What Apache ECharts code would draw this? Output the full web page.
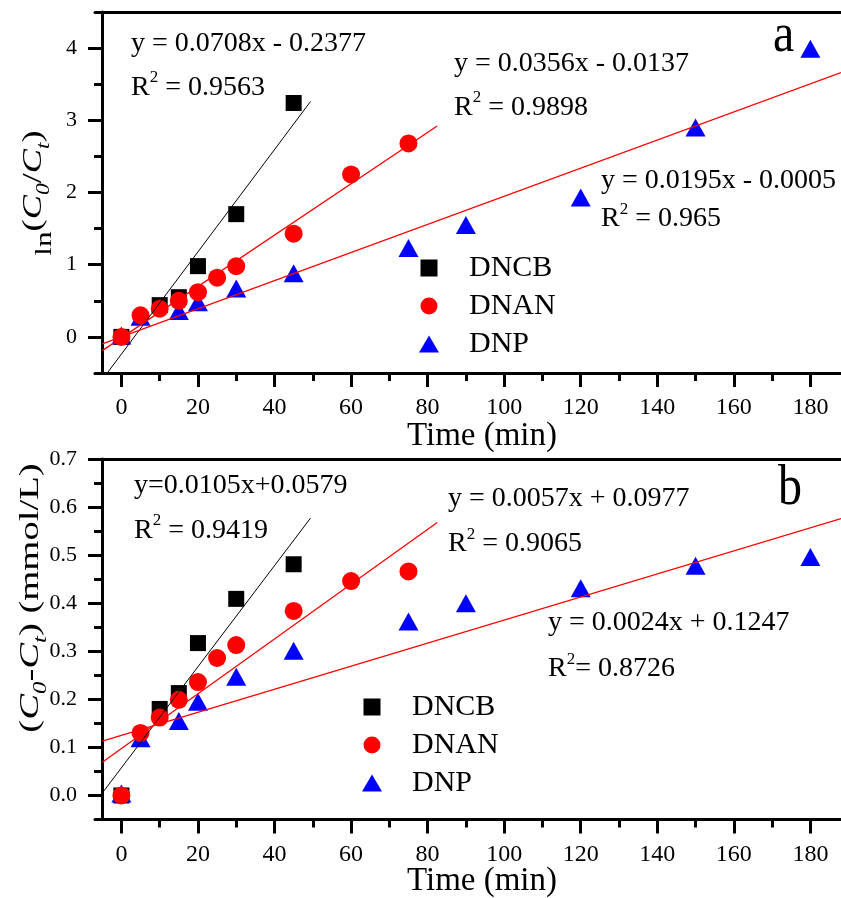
<!DOCTYPE html>
<html>
<head>
<meta charset="utf-8">
<script src="https://cdn.jsdelivr.net/npm/echarts@6/dist/echarts.min.js"></script>
<style>html,body{margin:0;padding:0;background:#fff}#c{width:841px;height:898px}</style>
</head>
<body>
<div id="c"></div>
<script>
// ---------- data ----------
const timeTicks = [0, 20, 40, 60, 80, 100, 120, 140, 160, 180];
const timeMinorTicks = [10, 30, 50, 70, 90, 110, 130, 150, 170];
const lnTicks = [0, 1, 2, 3, 4];
const lnMinorTicks = [0.5, 1.5, 2.5, 3.5];
const concTicks = [0, 0.1, 0.2, 0.3, 0.4, 0.5, 0.6, 0.7];
const concMinorTicks = [0.05, 0.15, 0.25, 0.35, 0.45, 0.55, 0.65];

const seriesNames = ['DNCB', 'DNAN', 'DNP'];

// panel a : ln(C0/Ct) vs time
const lnDNCB = [[0, 0], [10, 0.44], [15, 0.55], [20, 0.98], [30, 1.70], [45, 3.24]];
const lnDNAN = [[0, 0], [5, 0.30], [10, 0.39], [15, 0.50], [20, 0.62], [25, 0.82], [30, 0.98], [45, 1.43], [60, 2.25], [75, 2.68]];
const lnDNP = [[0, 0.02], [5, 0.28], [15, 0.36], [20, 0.48], [30, 0.67], [45, 0.88], [75, 1.23], [90, 1.55], [120, 1.93], [150, 2.90], [180, 3.99]];
// fitted lines (end points)
const fitLnDNCB = [[-3.7, -0.5], [49.4, 3.26]];
const fitLnDNAN = [[-5, -0.19], [82.5, 2.92]];
const fitLnDNP = [[-5, -0.098], [188, 3.66]];

// panel b : (C0-Ct) vs time
const dcDNCB = [[0, 0], [10, 0.18], [15, 0.213], [20, 0.317], [30, 0.409], [45, 0.481]];
const dcDNAN = [[0, 0], [5, 0.13], [10, 0.162], [15, 0.199], [20, 0.236], [25, 0.286], [30, 0.313], [45, 0.384], [60, 0.446], [75, 0.466]];
const dcDNP = [[0, 0.004], [5, 0.119], [15, 0.155], [20, 0.195], [30, 0.247], [45, 0.301], [75, 0.362], [90, 0.40], [120, 0.431], [150, 0.478], [180, 0.496]];
const fitDcDNCB = [[-5, 0.005], [49.4, 0.577]];
const fitDcDNAN = [[-5, 0.069], [82.5, 0.568]];
const fitDcDNP = [[-5, 0.113], [188, 0.576]];

// annotation texts
const eqA = ['y = 0.0708x - 0.2377', 'y = 0.0356x - 0.0137', 'y = 0.0195x - 0.0005'];
const r2A = ['0.9563', '0.9898', '0.965'];
const eqB = ['y=0.0105x+0.0579', 'y = 0.0057x + 0.0977', 'y = 0.0024x + 0.1247'];
const r2B = ['0.9419', '0.9065', '0.8726'];

// ---------- chart ----------
const SERIF = "'Liberation Serif','Times New Roman',serif";
const X_MIN = -6.9, X_MAX = 188;

function makeX(gi) {
  return [
    { gridIndex: gi, type: 'value', position: 'bottom', min: X_MIN, max: X_MAX,
      axisLine: { show: true, onZero: false, lineStyle: { color: '#000', width: 3 } },
      axisTick: { show: true, length: 14, customValues: timeTicks, lineStyle: { color: '#000', width: 3 } },
      axisLabel: { show: true, customValues: timeTicks, margin: 23, fontFamily: SERIF, fontSize: 24, color: '#000' },
      splitLine: { show: false } },
    { gridIndex: gi, type: 'value', position: 'bottom', min: X_MIN, max: X_MAX,
      axisLine: { show: false, onZero: false },
      axisTick: { show: true, length: 8, customValues: timeMinorTicks, lineStyle: { color: '#000', width: 3 } },
      axisLabel: { show: false }, splitLine: { show: false } },
    { gridIndex: gi, type: 'value', position: 'top', min: X_MIN, max: X_MAX,
      axisLine: { show: true, onZero: false, lineStyle: { color: '#000', width: 3 } },
      axisTick: { show: false }, axisLabel: { show: false }, splitLine: { show: false } }
  ];
}
function makeY(gi, min, max, ticks, minor, fmt) {
  return [
    { gridIndex: gi, type: 'value', position: 'left', offset: -7, min: min, max: max,
      axisLine: { show: true, onZero: false, lineStyle: { color: '#000', width: 3 } },
      axisTick: { show: true, length: 14, customValues: ticks, lineStyle: { color: '#000', width: 3 } },
      axisLabel: { show: true, customValues: ticks, margin: 25, formatter: fmt, fontFamily: SERIF, fontSize: 22, color: '#000' },
      splitLine: { show: false } },
    { gridIndex: gi, type: 'value', position: 'left', offset: -7, min: min, max: max,
      axisLine: { show: false, onZero: false },
      axisTick: { show: true, length: 8, customValues: minor, lineStyle: { color: '#000', width: 3 } },
      axisLabel: { show: false }, splitLine: { show: false } }
  ];
}

const marker = {
  DNCB: { symbol: 'rect', symbolSize: 16, color: '#000000', z: 2 },
  DNP: { symbol: 'triangle', symbolSize: [20, 18], color: '#0000ff', z: 3 },
  DNAN: { symbol: 'circle', symbolSize: 18, color: '#ff0000', z: 4 }
};
function scatter(name, data, xi, yi) {
  const m = marker[name];
  return { type: 'scatter', name: name, xAxisIndex: xi, yAxisIndex: yi, data: data,
    symbol: m.symbol, symbolSize: m.symbolSize, itemStyle: { color: m.color, opacity: 1 }, z: m.z,
    emphasis: { disabled: true } };
}
function fit(data, color, width, xi, yi) {
  return { type: 'line', xAxisIndex: xi, yAxisIndex: yi, data: data, symbol: 'none', silent: true,
    lineStyle: { color: color, width: width }, z: 6, clip: false, emphasis: { disabled: true } };
}

function legendCfg(left, top) {
  return { left: left, top: top, orient: 'vertical', padding: 0, itemWidth: 20, itemHeight: 17, itemGap: 8,
    selectedMode: false,
    textStyle: { fontFamily: SERIF, fontSize: 30, color: '#000', lineHeight: 30, padding: [0, 0, 0, 25] },
    data: [
      { name: seriesNames[0], icon: 'path://M0,0H10V10H0Z' },
      { name: seriesNames[1], icon: 'circle' },
      { name: seriesNames[2], icon: 'triangle' }
    ] };
}

function txt(text, x, y, size, extra) {
  return Object.assign({ type: 'text', x: x, y: y, silent: true,
    style: { text: text, fontFamily: SERIF, fontSize: size, fill: '#000',
      align: 'left', verticalAlign: 'middle', textAlign: 'left', textVerticalAlign: 'middle' } }, extra || {});
}
function r2(val, x, y, gap) {
  return { type: 'text', x: x, y: y, silent: true,
    style: { text: '{n|R}{s|2}{n|' + gap + '= ' + val + '}', fill: '#000',
      rich: { n: { fontFamily: SERIF, fontSize: 28, lineHeight: 36, fill: '#000' },
              s: { fontFamily: SERIF, fontSize: 17, verticalAlign: 'top', fill: '#000' } },
      align: 'left', verticalAlign: 'middle', textAlign: 'left', textVerticalAlign: 'middle' } };
}
function centered(text, x, y, size) {
  return { type: 'text', x: x, y: y, silent: true,
    style: { text: text, fontFamily: SERIF, fontSize: size, fill: '#000',
      align: 'center', verticalAlign: 'middle', textAlign: 'center', textVerticalAlign: 'middle' } };
}

const titleRich = {
  ln: { fontFamily: SERIF, fontSize: 24, padding: [22, 0, 0, 0], fill: '#000' },
  p: { fontFamily: SERIF, fontSize: 28, fill: '#000' },
  i: { fontFamily: SERIF, fontSize: 28, fontStyle: 'italic', fill: '#000' },
  s: { fontFamily: SERIF, fontSize: 18, fontStyle: 'italic', padding: [20, 0, 0, 0], fill: '#000' }
};

const option = {
  animation: false,
  backgroundColor: '#ffffff',
  grid: [
    { left: 95, right: 0, top: 12, height: 361 },
    { left: 95, right: 0, top: 459, height: 360.5 }
  ],
  xAxis: makeX(0).concat(makeX(1)),
  yAxis: makeY(0, -0.5, 4.5, lnTicks, lnMinorTicks, function (v) { return String(Math.round(v)); })
    .concat(makeY(1, -0.05, 0.7, concTicks, concMinorTicks, function (v) { return v.toFixed(1); })),
  legend: [legendCfg(419, 253), legendCfg(362, 692)],
  series: [
    scatter('DNCB', lnDNCB, 0, 0),
    scatter('DNP', lnDNP, 0, 0),
    scatter('DNAN', lnDNAN, 0, 0),
    fit(fitLnDNCB, '#000000', 1, 0, 0),
    fit(fitLnDNAN, '#ff0000', 1.3, 0, 0),
    fit(fitLnDNP, '#ff0000', 1.3, 0, 0),
    scatter('DNCB', dcDNCB, 3, 2),
    scatter('DNP', dcDNP, 3, 2),
    scatter('DNAN', dcDNAN, 3, 2),
    fit(fitDcDNCB, '#000000', 1, 3, 2),
    fit(fitDcDNAN, '#ff0000', 1.3, 3, 2),
    fit(fitDcDNP, '#ff0000', 1.3, 3, 2)
  ],
  graphic: { elements: [
    txt(eqA[0], 131, 44, 28), r2(r2A[0], 131, 87.5, ' '),
    txt(eqA[1], 454, 64, 28), r2(r2A[1], 454, 107.5, ' '),
    txt(eqA[2], 601, 181, 28), r2(r2A[2], 601, 219, ' '),
    txt('a', 773, 36, 48, { scaleY: 1.15 }),
    txt(eqB[0], 134, 486, 28), r2(r2B[0], 134, 530.5, ' '),
    txt(eqB[1], 448, 499, 28), r2(r2B[1], 448, 544, ' '),
    txt(eqB[2], 548, 623, 28), r2(r2B[2], 548, 669, ''),
    txt('b', 778, 489, 48, { scaleY: 1.2 }),
    centered('Time (min)', 482, 436, 33),
    centered('Time (min)', 482, 881, 33),
    { type: 'text', x: 34, y: 193, rotation: Math.PI / 2, scaleX: 1.3, silent: true,
      style: { text: '{ln|ln}{p|(}{i|C}{s|0}{p|/}{i|C}{s|t}{p|)}', rich: titleRich, fill: '#000',
        align: 'center', verticalAlign: 'middle', textAlign: 'center', textVerticalAlign: 'middle' } },
    { type: 'text', x: 31, y: 598, rotation: Math.PI / 2, scaleX: 1.38, silent: true,
      style: { text: '{p|(}{i|C}{s|0}{p|-}{i|C}{s|t}{p|) (mmol/L)}', rich: titleRich, fill: '#000',
        align: 'center', verticalAlign: 'middle', textAlign: 'center', textVerticalAlign: 'middle' } }
  ] }
};

const chart = echarts.init(document.getElementById('c'), null, { renderer: 'canvas' });
chart.setOption(option);
</script>
</body>
</html>
